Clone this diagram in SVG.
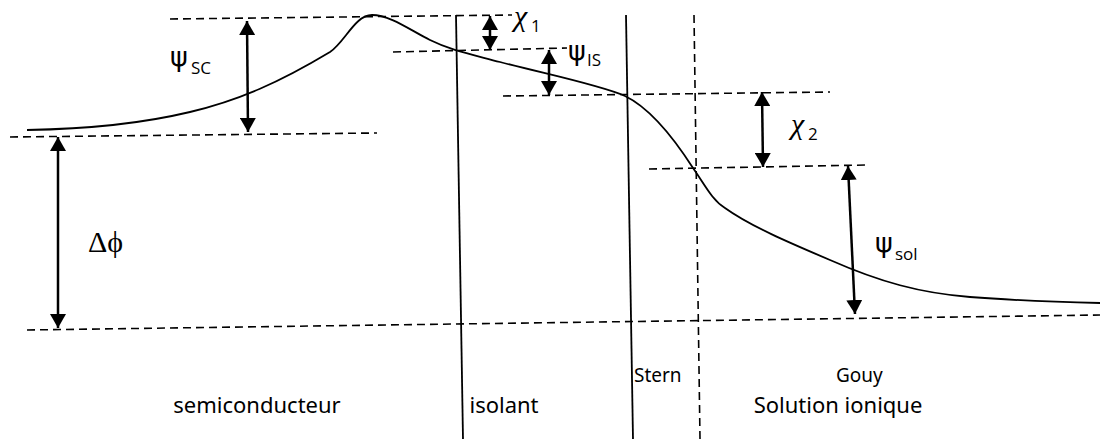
<svg xmlns="http://www.w3.org/2000/svg" width="1101" height="439" viewBox="0 0 1101 439">
<style>
.dash{stroke:#000;stroke-width:1.6;stroke-dasharray:8 5;fill:none}
.solid{stroke:#000;stroke-width:1.8;fill:none}
.arr{stroke:#000;stroke-width:2.5;fill:none;marker-start:url(#ah);marker-end:url(#ah)}
.lbl{font-family:"Noto Sans","Open Sans",sans-serif;font-size:22px;fill:#000}
.sm{font-family:"Noto Sans","Open Sans",sans-serif;font-size:19px;fill:#000}
.psi{font-family:"DejaVu Sans",sans-serif;font-size:27px;fill:#000}
.chi{font-family:"Liberation Serif",serif;font-style:italic;font-size:30px;fill:#000}
.gk{font-family:"Liberation Serif",serif;font-size:30px;fill:#000}
.sub{font-family:"Open Sans","Noto Sans",sans-serif;font-size:17px;fill:#000}
</style>
<defs>
<marker id="ah" viewBox="0 0 14 16" refX="14" refY="8" markerWidth="14" markerHeight="16" markerUnits="userSpaceOnUse" orient="auto-start-reverse">
<path d="M0,0 L14,8 L0,16 Z" fill="#000"/>
</marker>
</defs>
<rect width="1101" height="439" fill="#fff"/>
<g id="guides">
<line class="dash" x1="170" y1="19" x2="512" y2="15"/>
<line class="dash" x1="10" y1="137" x2="377" y2="133"/>
<line class="dash" x1="393" y1="52" x2="567" y2="48"/>
<line class="dash" x1="503" y1="96" x2="830" y2="92"/>
<line class="dash" x1="649" y1="169" x2="867" y2="165"/>
<line class="dash" x1="27" y1="330" x2="1100" y2="315"/>
<line class="dash" x1="694" y1="15" x2="700" y2="439"/>
<line class="solid" x1="456" y1="15" x2="463" y2="439"/>
<line class="solid" x1="626" y1="15" x2="633" y2="439"/>
</g>
<g id="curve">
<path class="solid" stroke-width="2" d="M27,130 C90,129 140,124 190,112 C240,100 280,82 330,52 C345,42 355,15 372,15 C390,15 410,30 430,40 C450,50 470,54 500,62 C550,75 600,85 625,96 C650,108 675,140 693,168 C705,185 712,200 725,208 C750,226 790,243 830,260 C880,282 920,293 970,297 C1020,301 1060,302 1100,303"/>
</g>
<g id="connectors">
<line class="arr" x1="247" y1="21" x2="248" y2="132"/>
<line class="arr" x1="58" y1="137" x2="58" y2="328"/>
<line class="arr" x1="490" y1="16" x2="490" y2="50"/>
<line class="arr" x1="549" y1="50" x2="549" y2="95"/>
<line class="arr" x1="762" y1="92" x2="763" y2="167"/>
<line class="arr" x1="848" y1="166" x2="855" y2="314"/>
</g>
<g id="label-psisc"><text x="170" y="66" class="psi">ψ</text><text x="191" y="74" class="sub">SC</text></g>
<g id="label-chi1"><text x="514" y="26" class="chi">χ</text><text x="531" y="32" class="sub">1</text></g>
<g id="label-psiis"><text x="568" y="60" class="psi">ψ</text><text x="587" y="66" class="sub">IS</text></g>
<g id="label-chi2"><text x="791" y="134" class="chi">χ</text><text x="808" y="140" class="sub">2</text></g>
<g id="label-psisol"><text x="875" y="252" class="psi">ψ</text><text x="895" y="260" class="sub">sol</text></g>
<g id="label-dphi"><text x="88" y="252" class="gk">Δϕ</text></g>
<g id="label-stern"><text x="634" y="382" class="sm">Stern</text></g>
<g id="label-gouy"><text x="836" y="382" class="sm">Gouy</text></g>
<g id="label-sc"><text x="257" y="413" class="lbl" text-anchor="middle">semiconducteur</text></g>
<g id="label-iso"><text x="504" y="413" class="lbl" text-anchor="middle">isolant</text></g>
<g id="label-sol"><text x="838" y="413" class="lbl" text-anchor="middle">Solution ionique</text></g>
</svg>
